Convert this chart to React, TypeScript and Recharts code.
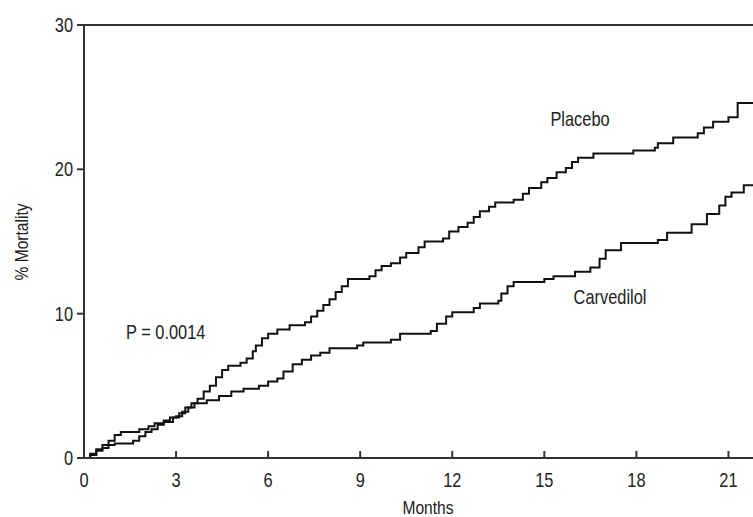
import { Line, LineChart, ReferenceLine, XAxis, YAxis } from 'recharts';

// Kaplan-Meier style cumulative mortality
const placeboMonths = [
  0, 0.2, 0.4, 0.6, 0.8, 1.0, 1.6, 1.8, 2.0, 2.2, 2.4, 2.6, 2.9, 3.1, 3.3, 3.5, 3.7, 3.9, 4.1, 4.3,
  4.5, 4.7, 5.1, 5.3, 5.5, 5.6, 5.8, 6.0, 6.3, 6.7, 7.2, 7.4, 7.6, 7.8, 8.0, 8.2, 8.4, 8.6, 9.3, 9.5,
  9.7, 10.0, 10.3, 10.5, 10.9, 11.1, 11.7, 11.9, 12.2, 12.5, 12.7, 12.9, 13.2, 13.4, 14.0, 14.3, 14.5,
  14.9, 15.1, 15.4, 15.7, 15.9, 16.1, 16.6, 17.9, 18.6, 18.7, 19.2, 20.0, 20.2, 20.5, 21.0, 21.3, 21.8,
];
const placeboPct = [
  0, 0.2, 0.5, 0.7, 0.9, 1.0, 1.2, 1.5, 1.8, 2.0, 2.3, 2.5, 2.8, 3.1, 3.5, 3.8, 4.1, 4.6, 5.0, 5.6,
  6.1, 6.4, 6.6, 6.9, 7.4, 7.8, 8.3, 8.6, 8.9, 9.2, 9.4, 9.8, 10.2, 10.6, 11.0, 11.5, 11.9, 12.4, 12.6, 13.0,
  13.3, 13.5, 13.9, 14.2, 14.6, 15.0, 15.2, 15.7, 16.0, 16.3, 16.7, 17.1, 17.4, 17.7, 17.9, 18.3, 18.7,
  19.1, 19.4, 19.8, 20.1, 20.5, 20.8, 21.1, 21.3, 21.5, 21.8, 22.2, 22.5, 22.9, 23.3, 23.6, 24.6, 24.6,
];

const carvedilolMonths = [
  0, 0.2, 0.4, 0.6, 0.8, 1.0, 1.2, 1.8, 2.1, 2.3, 2.6, 2.8, 3.0, 3.2, 3.4, 3.6, 4.0, 4.4, 4.8, 5.2,
  5.7, 6.0, 6.3, 6.5, 6.8, 7.1, 7.4, 7.7, 8.0, 8.9, 9.1, 10.0, 10.3, 11.3, 11.5, 11.8, 12.0, 12.7, 12.9,
  13.5, 13.6, 13.8, 14.0, 15.0, 15.3, 16.0, 16.5, 16.8, 17.0, 17.5, 18.7, 19.0, 19.8, 20.3, 20.7, 20.9,
  21.1, 21.5, 21.8,
];
const carvedilolPct = [
  0, 0.3, 0.6, 0.9, 1.2, 1.6, 1.8, 2.0, 2.2, 2.4, 2.6, 2.8, 2.9, 3.2, 3.5, 3.8, 4.0, 4.3, 4.6, 4.8,
  5.0, 5.3, 5.5, 6.0, 6.5, 6.8, 7.1, 7.3, 7.6, 7.8, 8.0, 8.2, 8.6, 8.8, 9.3, 9.8, 10.1, 10.4, 10.7,
  10.9, 11.4, 11.9, 12.2, 12.4, 12.6, 12.9, 13.2, 13.8, 14.4, 14.9, 15.1, 15.6, 16.2, 16.9, 17.5, 18.1,
  18.4, 18.9, 18.9,
];

const xTicks = [0, 3, 6, 9, 12, 15, 18, 21];
const yTicks = [0, 10, 20, 30];

const FONT = "'Liberation Sans', Arial, sans-serif";
const INK = '#222';

const placeboData = placeboMonths.map((m, i) => ({ month: m, pct: placeboPct[i] }));
const carvedilolData = carvedilolMonths.map((m, i) => ({ month: m, pct: carvedilolPct[i] }));

// the original uses a condensed face; squeeze Liberation Sans horizontally
function Narrow({ x, y, anchor = 'start', size = 20, rotate = 0, children }: any) {
  return (
    <text
      transform={`translate(${x} ${y}) rotate(${rotate}) scale(0.82 1)`}
      textAnchor={anchor}
      fontFamily={FONT}
      fontSize={size}
      fill={INK}
    >
      {children}
    </text>
  );
}

function XTick({ x, y, payload }: any) {
  return (
    <g>
      <line x1={x} x2={x} y1={y} y2={y - 7} stroke="#333" strokeWidth={2} />
      <Narrow x={x} y={y + 29} anchor="middle">
        {payload.value}
      </Narrow>
    </g>
  );
}

function YTick({ x, y, payload }: any) {
  return (
    <Narrow x={x} y={y + 7} anchor="end">
      {payload.value}
    </Narrow>
  );
}

export default function App() {
  return (
    <div style={{ position: 'absolute', left: 0, top: 0, width: 753, height: 517, background: '#fff' }}>
      <LineChart width={753} height={517} margin={{ top: 25, right: 0, bottom: 0, left: 0 }}>
        <XAxis
          type="number"
          dataKey="month"
          domain={[0, 21.8]}
          allowDataOverflow
          ticks={xTicks}
          height={59}
          tickSize={0}
          tickMargin={0}
          tickLine={false}
          axisLine={{ stroke: '#333', strokeWidth: 2 }}
          tick={<XTick />}
        />
        <YAxis
          type="number"
          domain={[0, 30]}
          ticks={yTicks}
          width={84}
          tickSize={7}
          tickMargin={4}
          tickLine={{ stroke: '#333', strokeWidth: 2 }}
          axisLine={{ stroke: '#333', strokeWidth: 2 }}
          tick={<YTick />}
        />
        <ReferenceLine y={30} stroke="#333" strokeWidth={2} />
        <Line
          data={placeboData}
          dataKey="pct"
          type="stepAfter"
          stroke="#111"
          strokeWidth={2}
          dot={false}
          isAnimationActive={false}
        />
        <Line
          data={carvedilolData}
          dataKey="pct"
          type="stepAfter"
          stroke="#111"
          strokeWidth={2}
          dot={false}
          isAnimationActive={false}
        />
        <Narrow x={126} y={339}>P = 0.0014</Narrow>
        <Narrow x={580} y={126} anchor="middle">Placebo</Narrow>
        <Narrow x={610} y={304} anchor="middle">Carvedilol</Narrow>
        <Narrow x={428} y={514} anchor="middle" size={19}>Months</Narrow>
        <Narrow x={28} y={242} anchor="middle" size={19} rotate={-90}>% Mortality</Narrow>
      </LineChart>
    </div>
  );
}
